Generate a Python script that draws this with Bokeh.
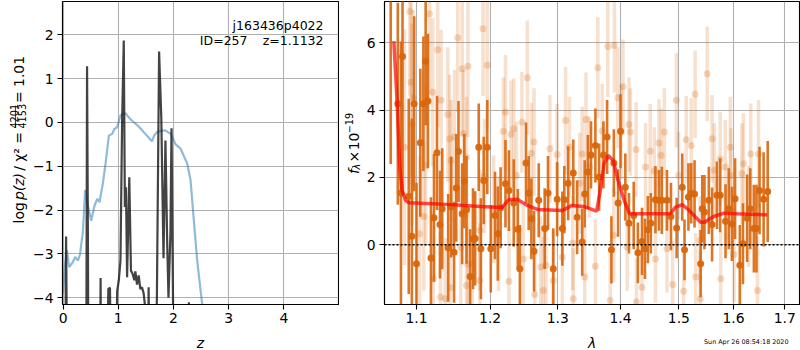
from bokeh.plotting import figure
from bokeh.layouts import row, column
from bokeh.models import (Range1d, FixedTicker, Label, ColumnDataSource,
                          PrintfTickFormatter, CustomJSTickFormatter, Span)
from bokeh.embed import file_html
from bokeh.resources import INLINE

# ---------------- data: left panel (redshift fit) ----------------
z_grid_logp = [0.0, 0.04, 0.055, 0.075, 0.42, 0.435, 0.45, 0.46, 0.67, 0.68, 0.69,
               0.80, 0.82, 0.85, 0.87, 0.96, 0.98, 1.01, 1.04, 1.07, 1.10, 1.12, 1.14,
               1.16, 1.20, 1.23, 1.26, 1.29, 1.31, 1.34, 1.37, 1.40, 1.43, 1.46, 1.48,
               1.50, 1.54, 1.55, 1.57, 1.66, 1.70, 1.74, 1.78, 1.82, 1.855, 1.886, 1.91,
               1.945, 1.965, 2.005, 2.26, 2.28, 2.30, 2.5, 5.0]
log_pz = [-6, -6, -2.6, -6, -6, 1.28, -2.58, -6, -6, -3.55, -6,
          -6, -3.8, -3.77, -6, -6, -3.85, -3.6, -3.15, 0.04, 1.87, -1.93, -1.48,
          -3.53, -1.25, -3.38, -3.45, -3.6, -3.4, -3.7, -3.49, -3.8, -3.76, -3.9, -4.13,
          -6, -6, -3.76, -6, -6, -4.0, 1.62, 0.09, -3.1, -0.41, -2.7, -4.0,
          -2.54, -0.13, -6, -6, -4.1, -6, -6, -6]

z_grid_chi2 = [0.0, 0.03, 0.07, 0.11, 0.17, 0.22, 0.27, 0.31, 0.33, 0.36, 0.40, 0.45,
               0.51, 0.57, 0.62, 0.66, 0.72, 0.77, 0.83, 0.89, 0.93, 0.98, 1.04, 1.09,
               1.13, 1.19, 1.25, 1.37, 1.49, 1.61, 1.65, 1.70, 1.78, 1.85, 1.95, 2.04,
               2.13, 2.20, 2.25, 2.31, 2.37, 2.43, 2.52, 2.6]
chi2_scaled = [-3.9, -3.3, -2.92, -3.3, -3.2, -3.07, -3.15, -3.0, -2.77, -2.5, -1.54, -1.9,
               -2.24, -1.9, -1.74, -1.82, -1.4, -0.94, -0.30, -0.26, -0.15, -0.11, 0.16, 0.2,
               0.21, 0.12, 0.04, -0.09, -0.26, -0.43, -0.30, -0.22, -0.19, -0.18, -0.26, -0.50,
               -0.60, -0.80, -0.94, -1.32, -2.24, -3.15, -4.14, -5.0]

z_ticks = [0, 1, 2, 3, 4]
logp_ticks = [-4, -3, -2, -1, 0, 1, 2]

# ---------------- data: right panel (spectrum) ----------------
dark_wave = [1.067, 1.076, 1.080, 1.082, 1.090, 1.094, 1.097, 1.100, 1.105, 1.109, 1.112,
             1.115, 1.119, 1.123, 1.127, 1.131, 1.134, 1.142, 1.146, 1.150, 1.153, 1.156,
             1.161, 1.164, 1.167, 1.172, 1.176, 1.179, 1.184, 1.187, 1.191, 1.196, 1.201,
             1.207, 1.211, 1.215, 1.222, 1.227, 1.234, 1.240, 1.243, 1.252, 1.256, 1.260,
             1.264, 1.271, 1.280, 1.285, 1.293, 1.299, 1.307, 1.310, 1.316, 1.324, 1.330,
             1.338, 1.342, 1.347, 1.352, 1.359, 1.365, 1.372, 1.378, 1.385, 1.389, 1.396,
             1.400, 1.408, 1.414, 1.422, 1.429, 1.436, 1.441, 1.446, 1.451, 1.459, 1.465,
             1.470, 1.479, 1.486, 1.496, 1.506, 1.510, 1.517, 1.522, 1.528, 1.539, 1.542,
             1.546, 1.554, 1.560, 1.569, 1.575, 1.585, 1.591, 1.597, 1.603, 1.612, 1.618,
             1.626, 1.632, 1.639, 1.644, 1.650, 1.658, 1.666]
dark_flux = [7.5, 4.19, 1.54, 5.59, 1.44, 0.25, 4.19, -0.56, 3.03, 4.19, 5.45,
             4.27, -0.39, 0.80, 2.73, 0.60, 1.07, -0.09, 1.12, -0.22, 1.69, 2.77,
             0.92, 1.89, 1.04, -0.94, 0.18, 0.19, 2.90, -0.12, 1.91, 2.90, -0.12,
             0.87, 0.33, 1.10, 1.81, 1.61, 1.24, 0.46, -0.71, 2.43, 1.54, 0.77,
             -0.19, 1.32, 0.48, 1.54, -0.71, 1.35, 0.48, 1.34, 1.83, 2.13, 0.82,
             0.08, 1.51, 2.16, 2.67, 2.95, 2.01, 2.67, 3.20, -0.15, 2.43, 1.24,
             3.37, 1.71, 0.64, 0.87, -0.24, 0.10, -0.12, 0.45, 0.64, 1.34, 1.32,
             1.32, 1.32, 0.84, 0.50, 1.71, -0.15, 1.42, 1.53, 1.51, -0.56, 1.07,
             0.97, 1.32, 0.60, 1.47, 1.47, 0.70, 1.07, 0.62, 1.37, -0.61, 0.03,
             0.79, 1.07, 0.48, 0.48, 1.61, 1.35, 1.58]
dark_err = [5.1, 3.0, 4.5, 4.0, 2.9, 3.5, 2.6, 2.4, 2.2, 2.0, 1.9,
            2.0, 1.8, 1.9, 1.7, 1.6, 1.8, 1.6, 1.5, 1.5, 1.6, 1.5,
            1.5, 1.4, 1.6, 1.4, 1.5, 1.4, 1.3, 1.5, 1.3, 1.4, 1.3,
            1.3, 1.4, 1.2, 1.3, 1.2, 1.3, 1.2, 1.3, 1.2, 1.1, 1.2,
            1.2, 1.1, 1.2, 1.1, 1.2, 1.1, 1.1, 1.0, 1.1, 1.0, 1.1,
            1.0, 1.0, 1.1, 1.0, 1.1, 1.0, 1.0, 1.1, 1.0, 1.0, 1.0,
            1.1, 1.0, 0.9, 1.0, 0.9, 1.0, 0.9, 1.0, 0.9, 1.0, 0.9,
            1.0, 0.9, 1.0, 0.9, 1.0, 0.9, 1.0, 0.9, 1.0, 1.0, 1.0,
            1.1, 1.0, 1.1, 1.0, 1.1, 1.1, 1.2, 1.1, 1.2, 1.2, 1.2,
            1.3, 1.2, 1.3, 1.3, 1.3, 1.4, 1.5]

light_wave = [1.0914, 1.117, 1.093, 1.0957, 1.0944, 1.0845, 1.112, 1.1214, 1.128, 1.1325,
              1.1415, 1.155, 1.161, 1.169, 1.190, 1.196, 1.144, 1.1506, 1.146, 1.163,
              1.167, 1.1096, 1.104, 1.122, 1.1317, 1.138, 1.145, 1.159, 1.169, 1.167,
              1.175, 1.186, 1.1855, 1.192, 1.205, 1.212, 1.219, 1.222, 1.227, 1.230,
              1.234, 1.238, 1.246, 1.248, 1.254, 1.260, 1.264, 1.265, 1.278, 1.274,
              1.282, 1.288, 1.293, 1.299, 1.307, 1.312, 1.318, 1.323, 1.334, 1.338,
              1.342, 1.344, 1.3495, 1.359, 1.363, 1.370, 1.379, 1.390, 1.389, 1.3955,
              1.401, 1.404, 1.411, 1.414, 1.4165, 1.426, 1.436, 1.442, 1.450, 1.457,
              1.465, 1.469, 1.4745, 1.479, 1.489, 1.4955, 1.4996, 1.5085, 1.513, 1.522,
              1.529, 1.530, 1.5385, 1.551, 1.560, 1.564, 1.575, 1.5845, 1.594, 1.601,
              1.616, 1.619, 1.629, 1.633, 1.646, 1.648, 1.595, 1.576, 1.538, 1.459,
              1.4266, 1.383, 1.324]
light_flux = [6.93, 6.86, 4.83, 4.37, 3.57, 2.90, 2.36, 4.53, 5.79, 4.29,
              3.87, 6.15, 5.23, 5.30, 6.42, 5.33, 3.15, 3.20, 2.50, 3.30,
              2.60, 0.84, 0.33, -1.01, -1.55, -1.60, -1.28, -0.07, -0.58, -1.21,
              -0.56, 0.43, -1.06, 2.04, 1.05, 0.33, 3.37, 3.94, -1.08, 3.28,
              3.45, 2.06, 3.64, -0.42, 4.96, 2.72, 3.05, -1.48, -1.36, -0.66,
              -0.61, 2.85, -1.06, 2.68, -0.37, 3.69, 2.90, 0.05, 1.83, 2.70,
              -0.96, 3.72, 2.31, -0.64, 5.26, 3.38, 5.89, 5.92, 0.28, 4.37,
              3.35, 4.70, -0.07, 3.57, 3.35, 2.83, -1.26, 2.31, 2.78, 2.19,
              3.02, 2.65, 3.35, -0.12, -1.18, 4.29, 2.06, -1.38, 3.12, 2.95,
              4.47, -0.96, -1.60, 5.08, 3.15, 2.21, 2.55, 2.31, 2.90, -0.29,
              2.11, 2.41, 0.84, 2.70, -1.36, 2.70, 2.06, -1.01, 0.13, -0.42,
              -1.70, -1.65, -1.60]
light_err = [2.5, 2.4, 2.8, 2.6, 3.0, 3.5, 2.4, 2.2, 2.3, 2.1,
             2.0, 2.2, 2.0, 2.1, 2.0, 1.9, 1.9, 2.0, 1.8, 1.9,
             1.8, 2.2, 2.3, 2.0, 1.9, 1.8, 1.9, 1.8, 1.7, 1.8,
             1.7, 1.8, 1.7, 1.7, 1.6, 1.7, 1.6, 1.7, 1.6, 1.6,
             1.5, 1.6, 1.5, 1.6, 1.7, 1.5, 1.6, 1.5, 1.6, 1.5,
             1.5, 1.6, 1.5, 1.5, 1.5, 1.6, 1.5, 1.4, 1.5, 1.4,
             1.5, 1.4, 1.5, 1.4, 1.5, 1.4, 1.5, 1.4, 1.4, 1.5,
             1.4, 1.4, 1.3, 1.4, 1.3, 1.4, 1.3, 1.3, 1.4, 1.3,
             1.3, 1.4, 1.3, 1.3, 1.3, 1.4, 1.3, 1.3, 1.3, 1.4,
             1.3, 1.3, 1.4, 1.4, 1.3, 1.4, 1.4, 1.4, 1.5, 1.4,
             1.5, 1.5, 1.5, 1.5, 1.6, 1.6, 1.4, 1.4, 1.3, 1.3,
             1.3, 1.4, 1.5]

model_wave = [1.071, 1.075, 1.0785, 1.0815, 1.086, 1.090, 1.141, 1.186, 1.217, 1.227,
              1.239, 1.254, 1.269, 1.307, 1.322, 1.340, 1.361, 1.366, 1.373, 1.380,
              1.388, 1.396, 1.406, 1.415, 1.445, 1.485, 1.494, 1.506, 1.517, 1.539,
              1.546, 1.563, 1.582, 1.607, 1.665]
model_flux = [6.05, 4.29, 2.31, 1.61, 1.32, 1.25, 1.20, 1.14, 1.11, 1.34,
              1.35, 1.17, 1.05, 1.02, 1.17, 1.14, 1.00, 1.51, 2.41, 2.65,
              2.50, 1.91, 1.32, 0.92, 0.92, 0.92, 1.12, 1.19, 1.04, 0.67,
              0.67, 0.84, 0.94, 0.92, 0.89]

wave_ticks = [1.1, 1.2, 1.3, 1.4, 1.5, 1.6, 1.7]
flux_ticks = [0, 2, 4, 6]

FONT = "DejaVu Sans"
FS = "13.9px"
SUB = "9.7px"
ORANGE = "#d8660c"
NB = "\u00a0"   # non-breaking space (SVG would drop leading plain spaces)
ROW_H = 330   # height of the plot row; a 20 px strip below holds axis titles


def style(p):
    p.outline_line_color = "black"
    p.outline_line_width = 1.1
    p.outline_line_alpha = 1.0
    p.background_fill_color = "white"
    p.border_fill_color = "white"
    for ax in p.axis:
        ax.major_tick_out = 5
        ax.major_tick_in = 0
        ax.minor_tick_out = 0
        ax.minor_tick_in = 0
        ax.major_label_text_font = FONT
        ax.major_label_text_font_size = FS
        ax.major_label_text_color = "black"
        ax.axis_line_color = "black"
        ax.axis_line_width = 1.1
        ax.major_tick_line_color = "black"
        ax.major_tick_line_width = 1.1
    p.xaxis.major_label_standoff = 3
    p.yaxis.major_label_standoff = 4
    p.grid.grid_line_color = "#b0b0b0"
    p.grid.grid_line_width = 1.1


def strip(w, h):
    s = figure(width=w, height=h, output_backend="svg", toolbar_location=None,
               x_range=Range1d(0, w), y_range=Range1d(0, h),
               x_axis_location=None, y_axis_location=None,
               min_border_left=0, min_border_right=0, min_border_top=0, min_border_bottom=0)
    s.outline_line_color = None
    s.grid.visible = False
    s.background_fill_color = "white"
    s.border_fill_color = "white"
    return s


def slab(s, h, x0, text, x_abs, ytop_abs, size=FS, style_="normal", align="left",
         angle=90, baseline="alphabetic"):
    """Label in a strip figure, positioned with page pixel coordinates."""
    s.add_layout(Label(x=x_abs - x0, y=h - ytop_abs, x_units="data", y_units="data",
                       text=text, angle=angle, angle_units="deg", text_font=FONT,
                       text_font_size=size, text_font_style=style_, text_align=align,
                       text_baseline=baseline, text_color="black"))


def flab(p, text, x_abs, ytop_abs, fx, fy, size=FS, align="right"):
    """Label inside a plot frame (screen units relative to frame bottom-left)."""
    p.add_layout(Label(x=x_abs - fx, y=fy - ytop_abs, x_units="screen", y_units="screen",
                       text=text, text_font=FONT, text_font_size=size, text_align=align,
                       text_baseline="alphabetic", text_color="black"))


# ---------------- left label strip (x 0..30) ----------------
S1W = 30
s1 = strip(S1W, ROW_H)
slab(s1, ROW_H, 0, "log", 18.3, 241.7)
slab(s1, ROW_H, 0, "p(z)", 18.3, 216.1, style_="italic")
slab(s1, ROW_H, 0, NB + "/" + NB + "\u03c7\u00b2" + NB + "=", 18.3, 189.2)
slab(s1, ROW_H, 0, "4201", 13.8, 125.0, size=SUB, align="center")
slab(s1, ROW_H, 0, "4153", 21.7, 125.0, size=SUB, align="center")
s1.segment(x0=[14.9], y0=[ROW_H - 137.0], x1=[14.9], y1=[ROW_H - 113.5],
           line_color="black", line_width=0.8)
slab(s1, ROW_H, 0, "=" + NB + "1.01", 18.3, 110.5)

# ---------------- left figure (x 30..339, frame 62..338) ----------------
p1 = figure(width=309, height=ROW_H, output_backend="svg", toolbar_location=None,
            x_range=Range1d(-0.01, 4.99), y_range=Range1d(-4.153, 2.76),
            min_border_left=32, min_border_right=1, min_border_top=1, min_border_bottom=26)
style(p1)
p1.xaxis.ticker = FixedTicker(ticks=z_ticks)
p1.yaxis.ticker = FixedTicker(ticks=logp_ticks)
p1.yaxis.formatter = CustomJSTickFormatter(
    code="return tick < 0 ? '\u2212' + Math.abs(tick) : String(tick);")

p1.line(z_grid_chi2, chi2_scaled, line_color="#1f77b4", line_alpha=0.5, line_width=2.2)
p1.line(z_grid_logp, log_pz, line_color="#222222", line_alpha=0.85, line_width=2.2)

F1X, F1Y = 62, 304
flab(p1, "j163436p4022", 323, 24.5, F1X, F1Y, size="12.5px")
flab(p1, "ID=257", 247, 39.5, F1X, F1Y, size="12.5px")
flab(p1, "z=1.1132", 323, 39.5, F1X, F1Y, size="12.5px")

# ---------------- middle label strip (x 339..362) ----------------
s2 = strip(23, ROW_H)
X2 = 339
slab(s2, ROW_H, X2, "f", 353.3, 188.0, style_="italic")
slab(s2, ROW_H, X2, "\u03bb", 356.3, 183.0, size=SUB, style_="italic")
slab(s2, ROW_H, X2, "\u00d7", 353.3, 169.0, align="center")
slab(s2, ROW_H, X2, "10", 353.3, 162.0)
slab(s2, ROW_H, X2, "\u221219", 348.3, 143.5, size=SUB)

# ---------------- right figure (x 362..800, frame 384..799) ----------------
p2 = figure(width=438, height=ROW_H, output_backend="svg", toolbar_location=None,
            x_axis_type="log", x_range=Range1d(1.0592, 1.7298), y_range=Range1d(-1.774, 7.226),
            min_border_left=22, min_border_right=1, min_border_top=1, min_border_bottom=26)
style(p2)
p2.xaxis.ticker = FixedTicker(ticks=wave_ticks)
p2.xgrid.ticker = FixedTicker(ticks=wave_ticks)
p2.xaxis.formatter = PrintfTickFormatter(format="%.1f")
p2.yaxis.ticker = FixedTicker(ticks=flux_ticks)
p2.ygrid.ticker = FixedTicker(ticks=flux_ticks)

light = ColumnDataSource(dict(
    x=light_wave, y=light_flux,
    lo=[f - e for f, e in zip(light_flux, light_err)],
    hi=[f + e for f, e in zip(light_flux, light_err)]))
dark = ColumnDataSource(dict(
    x=dark_wave, y=dark_flux,
    lo=[f - e for f, e in zip(dark_flux, dark_err)],
    hi=[f + e for f, e in zip(dark_flux, dark_err)]))

p2.segment(x0="x", y0="lo", x1="x", y1="hi", source=light, line_color=ORANGE,
           line_alpha=0.2, line_width=3.5)
p2.scatter("x", "y", source=light, size=7, fill_color=ORANGE, fill_alpha=0.25,
           line_color=None)
p2.segment(x0="x", y0="lo", x1="x", y1="hi", source=dark, line_color=ORANGE,
           line_alpha=0.9, line_width=2.6)
p2.scatter("x", "y", source=dark, size=7, fill_color=ORANGE, fill_alpha=0.95,
           line_color=None)
p2.line(model_wave, model_flux, line_color="red", line_alpha=0.7, line_width=3.5)
p2.add_layout(Span(location=0, dimension="width", line_color="black",
                   line_dash="2 2", line_width=1.6))

# ---------------- bottom strip (y 330..350): axis titles + timestamp ----------------
s3 = strip(800, 20)
Y3 = 330
slab(s3, 20, 0, "z", 200, 342.5 - Y3, style_="italic", align="center", angle=0)
slab(s3, 20, 0, "\u03bb", 591.5, 342.5 - Y3, style_="italic", align="center", angle=0)
slab(s3, 20, 0, "Sun Apr 26 08:54:18 2020", 788, 341.5 - Y3, size="6.4px",
     align="right", angle=0)

layout = column(row(s1, p1, s2, p2), s3)
open("out.html", "w").write(file_html(layout, INLINE))
